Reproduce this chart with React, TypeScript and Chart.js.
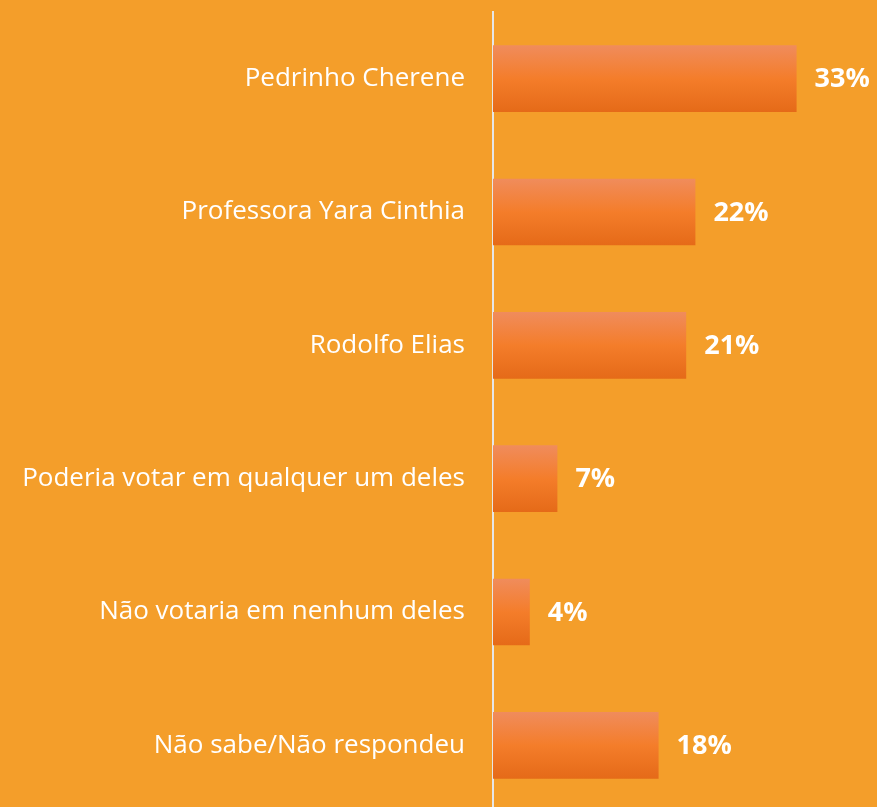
import React, { useEffect, useRef } from "react";
import { Chart, registerables } from "chart.js";

Chart.register(...registerables);

const categories = [
  "Pedrinho Cherene",
  "Professora Yara Cinthia",
  "Rodolfo Elias",
  "Poderia votar em qualquer um deles",
  "Não votaria em nenhum deles",
  "Não sabe/Não respondeu",
];
const values = [33, 22, 21, 7, 4, 18];
const valueLabels = ["33%", "22%", "21%", "7%", "4%", "18%"];

const BG = "#F49E2A";

export default function App() {
  const ref = useRef<HTMLCanvasElement | null>(null);

  useEffect(() => {
    document.body.style.margin = "0";
    document.body.style.overflow = "hidden";
    const canvas = ref.current;
    if (!canvas) return;

    const labelPlugin = {
      id: "valueLabels",
      afterDatasetsDraw(chart: any) {
        const { ctx } = chart;
        const meta = chart.getDatasetMeta(0);
        ctx.save();
        ctx.fillStyle = "#FFFFFF";
        ctx.font = "bold 27px 'Open Sans'";
        ctx.textAlign = "left";
        ctx.textBaseline = "middle";
        meta.data.forEach((bar: any, i: number) => {
          ctx.fillText(valueLabels[i], bar.x + 18, bar.y + 1);
        });
        ctx.restore();
      },
    };

    const chart = new Chart(canvas, {
      type: "bar",
      data: {
        labels: categories,
        datasets: [
          {
            data: values,
            categoryPercentage: 1,
            barPercentage: 0.5,
            borderWidth: 0,
            backgroundColor: (c: any) => {
              const chart = c.chart;
              const { ctx, chartArea, scales } = chart;
              if (!chartArea || !scales.y) return "#F47B2A";
              const yc = scales.y.getPixelForValue(c.dataIndex);
              const h = 67;
              const g = ctx.createLinearGradient(0, yc - h / 2, 0, yc + h / 2);
              g.addColorStop(0, "#F08C5C");
              g.addColorStop(0.5, "#F47D2A");
              g.addColorStop(1, "#E56A18");
              return g;
            },
          },
        ],
      },
      options: {
        indexAxis: "y",
        responsive: false,
        animation: false,
        layout: { padding: { top: 12, bottom: 0, right: 16, left: 0 } },
        plugins: {
          legend: { display: false },
          tooltip: { enabled: false },
        },
        scales: {
          x: {
            display: false,
            min: 0,
            max: 40,
          },
          y: {
            afterFit: (scale: any) => {
              scale.width = 493;
              scale.paddingTop = 0;
              scale.paddingBottom = 0;
            },
            grid: { display: false, drawTicks: false },
            border: { display: true, color: "#E6E6E6", width: 2 },
            ticks: {
              color: "#FFFFFF",
              font: { family: "'Open Sans'", size: 26 },
              padding: 28,
            },
          },
        },
      },
      plugins: [labelPlugin],
    });

    return () => chart.destroy();
  }, []);

  return (
    <div
      style={{
        position: "fixed",
        left: 0,
        top: 0,
        width: 877,
        height: 807,
        background: BG,
        overflow: "hidden",
      }}
    >
      <canvas ref={ref} width={877} height={812} style={{ display: "block" }} />
    </div>
  );
}
